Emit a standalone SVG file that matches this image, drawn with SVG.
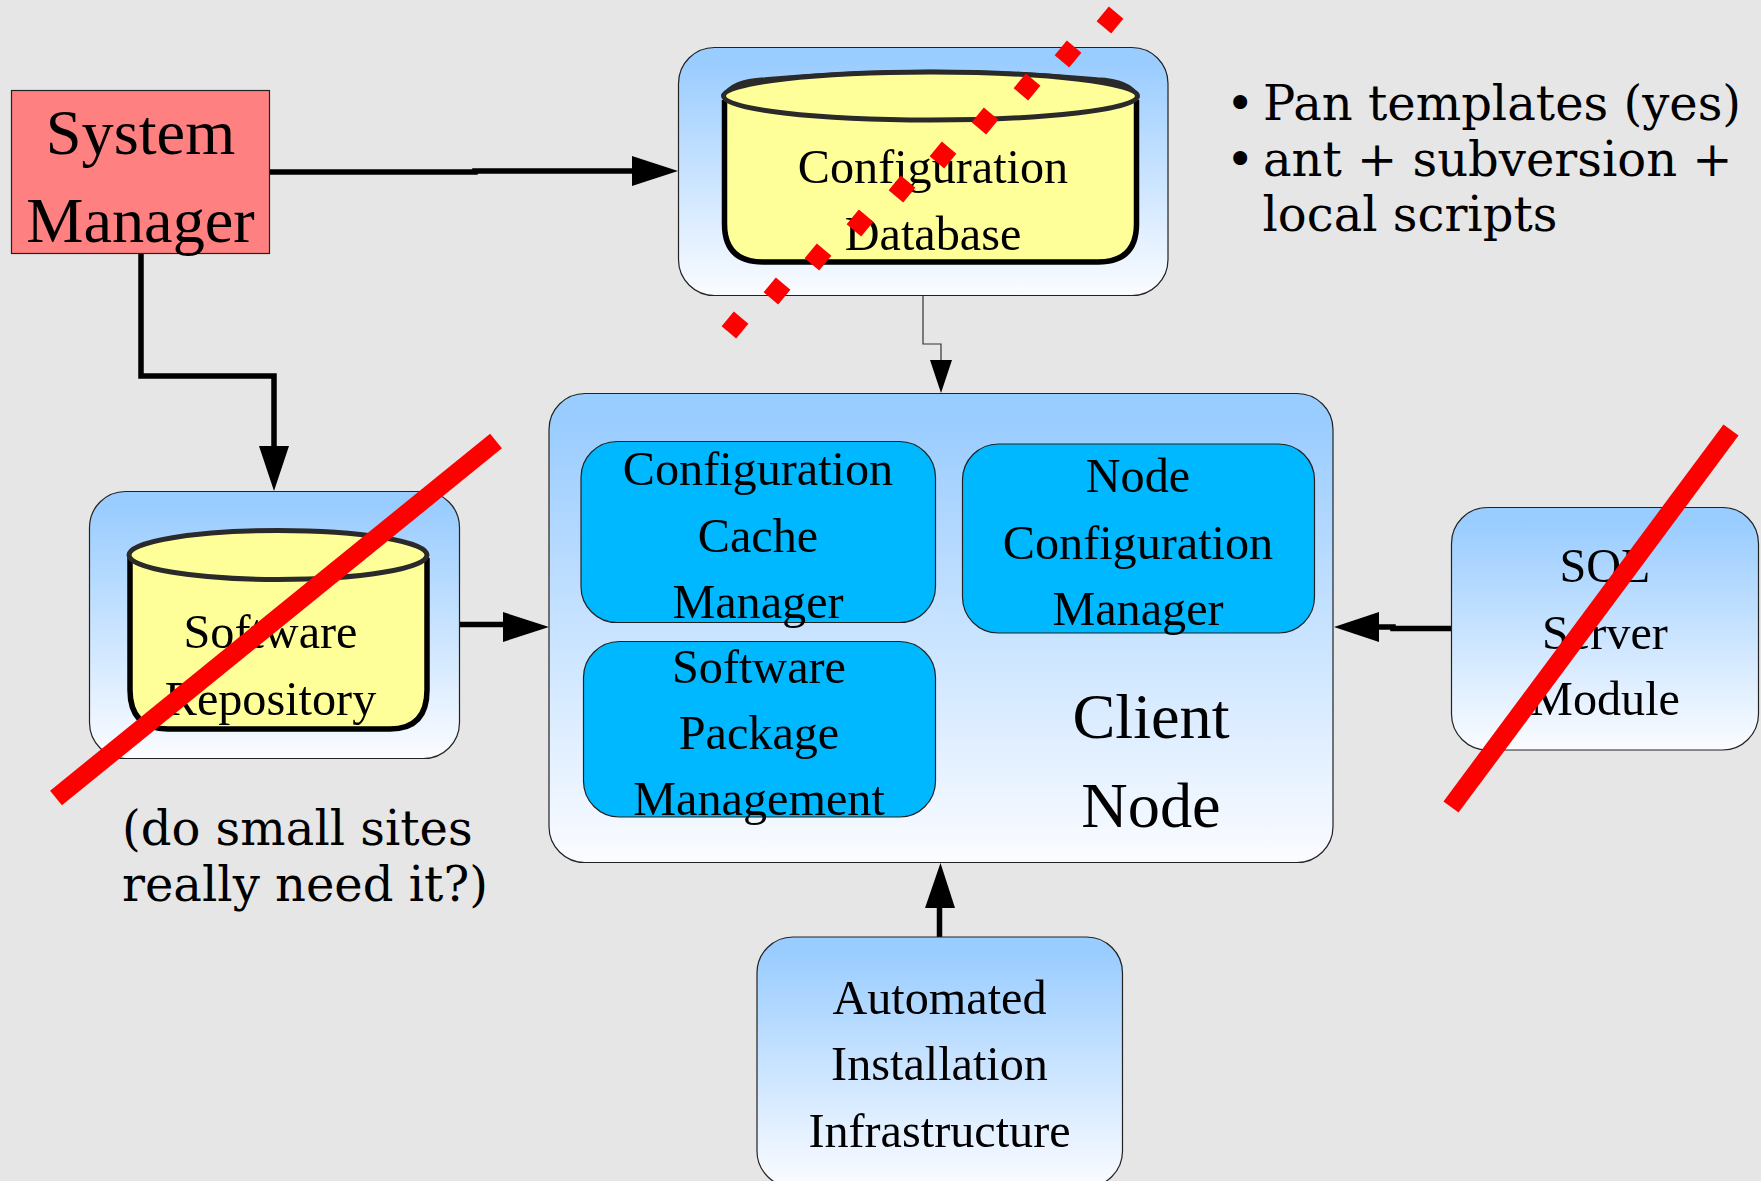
<svg xmlns="http://www.w3.org/2000/svg" width="1761" height="1181" viewBox="0 0 1761 1181">
<style>
text{font-family:"Liberation Serif","Times New Roman",serif;fill:#000;text-anchor:middle}
.t48{font-size:48.2px}.t64{font-size:64.3px}
.note{font-family:"DejaVu Serif",serif;font-size:48px;text-anchor:start}
.box{fill:url(#g);stroke:#222;stroke-width:1.2}
.inner{fill:#00b8ff;stroke:#222;stroke-width:1.2}
.cyl{fill:#ffff99;stroke:#000;stroke-width:5.5}
.cap{fill:#ffff99;stroke:#2a2a2a;stroke-width:5}
.shoulder{fill:none;stroke:#2a2a2a;stroke-width:4.5}
.c{fill:none;stroke:#000;stroke-width:5.5}
.ah{fill:#000;stroke:none}
.cross{stroke:#f00;stroke-width:18.8;fill:none}
.dia{fill:#f00}
</style>
<defs><linearGradient id="g" x1="0" y1="0" x2="0" y2="1"><stop offset="0.05" stop-color="#99ccff"/><stop offset="1" stop-color="#fbfcff"/></linearGradient></defs>
<rect width="1761" height="1181" fill="#e6e6e6"/>
<g id="connectors">
<path class="c" d="M269 172H475V171H640"/><polygon class="ah" points="678,171 632,156 632,186"/>
<path class="c" d="M141 253V376H274V450"/><polygon class="ah" points="274,491 259,446 289,446"/>
<path d="M923 295V344H941V362" fill="none" stroke="#333" stroke-width="1.2"/><polygon class="ah" points="941,393 930,360 952,360"/>
<path class="c" d="M460 624.500H505"/><polygon class="ah" points="549,627 503,612 503,642"/>
<path class="c" d="M1451 628.500H1393V627H1370"/><polygon class="ah" points="1334,627 1379,612 1379,642"/>
<path class="c" d="M939.500 937V900"/><polygon class="ah" points="940.500,863 925,908 955,908"/>
</g>
<g id="system-manager"><rect x="11.500" y="90.500" width="258" height="163" fill="#ff8080" stroke="#222" stroke-width="1.200"/><text class="t64" x="140.500" y="154">System</text><text class="t64" x="140.500" y="242">Manager</text></g>
<g id="configuration-database"><rect class="box" x="678.500" y="47.500" width="489.500" height="248" rx="36"/><path class="cyl" d="M724.500 100V224Q724.500 262 763 262H1098Q1136.500 262 1136.500 224V100"/><path class="shoulder" d="M724.500 96Q732 81 765 79.500Q850 72 930.500 72Q1010 72 1097 79.500Q1130 81 1136.500 96"/><ellipse class="cap" cx="930.500" cy="96" rx="207" ry="24"/><text class="t48" x="933" y="183">Configuration</text><text class="t48" x="933" y="250">Database</text></g>
<g id="software-repository"><rect class="box" x="89.500" y="491.500" width="370" height="267" rx="36"/><path class="cyl" d="M130 558V690Q130 729 168 729H390Q427 729 427 690V558"/><ellipse class="cap" cx="278" cy="555" rx="149" ry="24.500"/><text class="t48" x="270.500" y="648">Software</text><text class="t48" x="270.500" y="715">Repository</text></g>
<g id="client-node"><rect class="box" x="549" y="393.500" width="784" height="469" rx="36"/><text class="t64" x="1151" y="738">Client</text><text class="t64" x="1151" y="826.500">Node</text></g>
<g id="configuration-cache-manager"><rect class="inner" x="581" y="441.500" width="354.500" height="181" rx="36"/><text class="t48" x="758" y="485">Configuration</text><text class="t48" x="758" y="552">Cache</text><text class="t48" x="758" y="618">Manager</text></g>
<g id="node-configuration-manager"><rect class="inner" x="962.500" y="444" width="352" height="189" rx="36"/><text class="t48" x="1138" y="492">Node</text><text class="t48" x="1138" y="559">Configuration</text><text class="t48" x="1138" y="625">Manager</text></g>
<g id="software-package-management"><rect class="inner" x="583.500" y="641.500" width="352" height="175.500" rx="36"/><text class="t48" x="759" y="683">Software</text><text class="t48" x="759" y="749">Package</text><text class="t48" x="759" y="815">Management</text></g>
<g id="sql-server-module"><rect class="box" x="1451.500" y="507.500" width="307" height="242.500" rx="36"/><text class="t48" x="1605" y="582">SQL</text><text class="t48" x="1605" y="649">Server</text><text class="t48" x="1605" y="715">Module</text></g>
<g id="automated-installation-infrastructure"><rect class="box" x="757" y="937" width="365.500" height="250" rx="36"/><text class="t48" x="939.500" y="1014">Automated</text><text class="t48" x="939.500" y="1080">Installation</text><text class="t48" x="939.500" y="1147">Infrastructure</text></g>
<g id="notes">
<text class="note" x="1226" y="120">•</text><text class="note" x="1263" y="120">Pan templates (yes)</text>
<text class="note" x="1226" y="176">•</text><text class="note" x="1263" y="176">ant + subversion +</text>
<text class="note" x="1262.500" y="231">local scripts</text>
<text class="note" x="122" y="845">(do small sites</text><text class="note" x="122" y="901">really need it?)</text>
</g>
<g id="strikes">
<path class="cross" d="M56 798L496 441"/>
<path class="cross" d="M1451 807L1731 430"/>
<g class="dia">
<rect x="-9.500" y="-9.500" width="19" height="19" transform="translate(1110 20) rotate(40)"/>
<rect x="-9.500" y="-9.500" width="19" height="19" transform="translate(1068 54) rotate(40)"/>
<rect x="-9.500" y="-9.500" width="19" height="19" transform="translate(1027 87) rotate(40)"/>
<rect x="-9.500" y="-9.500" width="19" height="19" transform="translate(985 121) rotate(40)"/>
<rect x="-9.500" y="-9.500" width="19" height="19" transform="translate(943 155) rotate(40)"/>
<rect x="-9.500" y="-9.500" width="19" height="19" transform="translate(902 189) rotate(40)"/>
<rect x="-9.500" y="-9.500" width="19" height="19" transform="translate(860 223) rotate(40)"/>
<rect x="-9.500" y="-9.500" width="19" height="19" transform="translate(818 257) rotate(40)"/>
<rect x="-9.500" y="-9.500" width="19" height="19" transform="translate(777 291) rotate(40)"/>
<rect x="-9.500" y="-9.500" width="19" height="19" transform="translate(735 325) rotate(40)"/>
</g>
</g>
</svg>
